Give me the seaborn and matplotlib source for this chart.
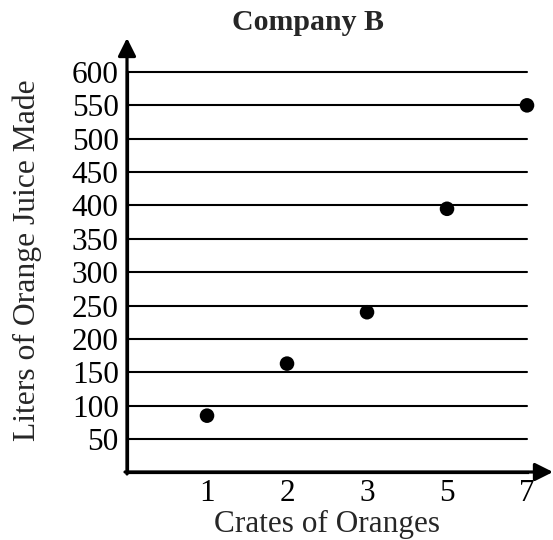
import matplotlib
matplotlib.use("Agg")
import matplotlib.pyplot as plt
import pandas as pd
import seaborn as sns

crates = ["1", "2", "3", "5", "7"]
liters = [85, 163, 240, 395, 550]
y_ticks = [50, 100, 150, 200, 250, 300, 350, 400, 450, 500, 550, 600]

data = pd.DataFrame({"Crates": crates, "Liters": liters})

sns.set_theme(style="white")
plt.rcParams["font.family"] = ["Liberation Serif", "DejaVu Serif"]

fig = plt.figure(figsize=(5.53, 5.40), dpi=100)
ax = fig.add_axes([0.2297, 0.1252, 0.7233, 0.7415])

ax.set_yticks(y_ticks)
for t in y_ticks:
    ax.axhline(t, color="black", lw=1.5, zorder=1, clip_on=False)

sns.scatterplot(data=data, x="Crates", y="Liters", color="black", s=110,
                edgecolor="none", ax=ax, zorder=3, clip_on=False)

ax.set_xlim(-1, 4)
ax.set_ylim(0, 600)
ax.set_xticks(range(len(crates)))
ax.set_xticklabels(crates)
ax.tick_params(axis="both", length=0, labelsize=22.5, colors="black")
ax.tick_params(axis="x", pad=5)
ax.tick_params(axis="y", pad=6)

sns.despine(ax=ax, top=True, right=True)
for side in ["left", "bottom"]:
    ax.spines[side].set_linewidth(2.3)
    ax.spines[side].set_color("black")

ax.set_xlabel("Crates of Oranges", fontsize=22.5, labelpad=1)
ax.set_ylabel("Liters of Orange Juice Made", fontsize=22.8, va="center")
ax.yaxis.set_label_coords(-0.25, 0.53)

# axis arrows
ax.annotate("", xy=(127 / 553, 1 - 38 / 540), xytext=(127 / 553, 1 - 474 / 540),
            xycoords="figure fraction", textcoords="figure fraction",
            arrowprops=dict(arrowstyle="-|>,head_length=0.9,head_width=0.45",
                            color="black", lw=2.3, shrinkA=0, shrinkB=0))
ax.annotate("", xy=(553 / 553, 1 - 472 / 540), xytext=(125 / 553, 1 - 472 / 540),
            xycoords="figure fraction", textcoords="figure fraction",
            arrowprops=dict(arrowstyle="-|>,head_length=0.9,head_width=0.45",
                            color="black", lw=2.3, shrinkA=0, shrinkB=0))

fig.text(308 / 553, 1 - 22 / 540, "Company B", ha="center", va="center",
         fontsize=21.5, fontweight="bold")

fig.savefig("out.png", dpi=100)
